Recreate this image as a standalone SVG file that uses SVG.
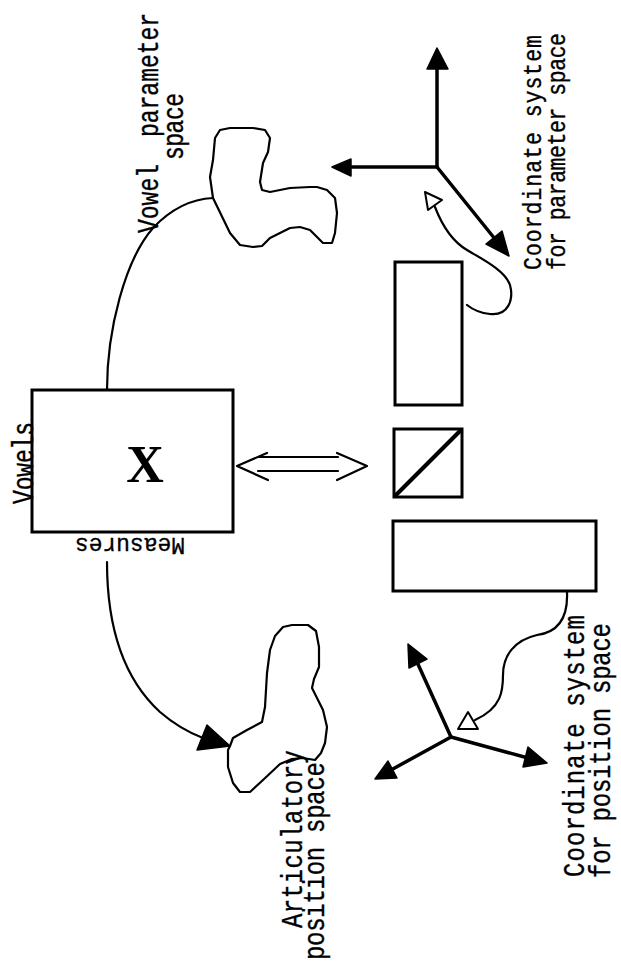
<svg xmlns="http://www.w3.org/2000/svg" width="621" height="962" viewBox="0 0 621 962">
<style>
.t{font-family:"Liberation Mono","DejaVu Sans Mono",monospace;fill:#000;stroke:#000;stroke-width:0.3}
.ln{fill:none;stroke:#000;stroke-width:2.2;stroke-linejoin:round;stroke-linecap:round}
.box{fill:none;stroke:#000;stroke-width:3}
.ax{fill:none;stroke:#000;stroke-width:3.5;stroke-linecap:round}
.ah{fill:#000;stroke:#000;stroke-width:1.5;stroke-linejoin:round}
.ho{fill:#fff;stroke:#000;stroke-width:2;stroke-linejoin:round}
</style>
<rect width="621" height="962" fill="#fff"/>

<g id="vowels-box">
<rect class="box" x="32" y="390" width="201" height="142"/>
<text class="t" font-size="23" transform="translate(33,504) rotate(-90) scale(1,1.25)" textLength="82" lengthAdjust="spacing">Vowels</text>
<text class="t" font-size="23" transform="translate(185,538) rotate(180)" textLength="110" lengthAdjust="spacing">Measures</text>
<text font-family="Liberation Serif,serif" font-weight="bold" font-size="52" x="145" y="482" text-anchor="middle">X</text>
</g>

<g id="vowel-parameter-space">
<path class="ln" d="M213,198 L210,177 L213,160 L215,138 L220,130 L230,128 L253,128 L265,130 L270,138 L268,152 L263,163 L260,182 L262,190 L270,192 L290,188 L310,187 L317,187 L327,190 L335,198 L337,213 L335,233 L332,243 L323,243 L317,237 L310,230 L300,227 L290,228 L270,238 L262,246 L253,247 L240,245 L230,233 Z"/>
<text class="t" font-size="23" transform="translate(158,233) rotate(-90) scale(1,1.25)"><tspan x="0">Vowel</tspan><tspan x="96">parameter</tspan></text>
<text class="t" font-size="23" transform="translate(183,160) rotate(-90) scale(1,1.25)" textLength="67" lengthAdjust="spacing">space</text>
</g>

<g id="articulatory-position-space">
<path class="ln" d="M230,746 L233,738 L247,730 L262,722 L265,707 L267,673 L270,650 L275,636 L283,627 L292,625 L308,625 L316,631 L319,647 L319,667 L314,679 L312,688 L318,700 L323,710 L327,727 L325,743 L321,753 L315,760 L303,758 L292,759 L280,764 L263,780 L250,792 L240,792 L233,783 L228,767 L228,750 Z"/>
<text class="t" font-size="24" transform="translate(302,928) rotate(-90) scale(1,1.2)" textLength="178" lengthAdjust="spacing">Articulatory</text>
<text class="t" font-size="24" transform="translate(324,960) rotate(-90) scale(1,1.2)" textLength="198" lengthAdjust="spacing">position space</text>
</g>

<g id="parameter-coordinate-system">
<line class="ax" x1="437" y1="167" x2="437" y2="66"/>
<polygon class="ah" points="437,48 427,69 448,69"/>
<line class="ax" x1="437" y1="167" x2="349" y2="167"/>
<polygon class="ah" points="332,167 351,159 351,176"/>
<line class="ax" x1="437" y1="167" x2="495" y2="239"/>
<polygon class="ah" points="509,256 486,244 502,231"/>
<text class="t" font-size="21.5" transform="translate(541,270) rotate(-90) scale(1,1.2)" textLength="235" lengthAdjust="spacing">Coordinate system</text>
<text class="t" font-size="21.5" transform="translate(565,270) rotate(-90) scale(1,1.2)" textLength="237" lengthAdjust="spacing">for parameter space</text>
</g>

<g id="position-coordinate-system">
<line class="ax" x1="451" y1="737" x2="417" y2="662"/>
<polygon class="ah" points="408,644 427,659 409,668"/>
<line class="ax" x1="451" y1="737" x2="391" y2="770"/>
<polygon class="ah" points="375,779 397,778 388,761"/>
<line class="ax" x1="451" y1="737" x2="528" y2="758"/>
<polygon class="ah" points="547,763 523,767 528,747"/>
<text class="t" font-size="24" transform="translate(584,877) rotate(-90) scale(1,1.2)" textLength="262" lengthAdjust="spacing">Coordinate system</text>
<text class="t" font-size="24" transform="translate(610,878) rotate(-90) scale(1,1.2)" textLength="255" lengthAdjust="spacing">for position space</text>
</g>

<g id="rect-top">
<rect class="box" x="395" y="262" width="67" height="143"/>
</g>
<g id="square-diag">
<rect class="box" x="394" y="429" width="68" height="68"/>
<line x1="395" y1="496" x2="461" y2="430" stroke="#000" stroke-width="4"/>
</g>
<g id="rect-bottom">
<rect class="box" x="393" y="521" width="203" height="70"/>
</g>

<g id="connectors">
<path class="ln" d="M107,390 C107,330 125,260 153,228 C170,210 190,199 213,198"/>
<path class="ln" d="M107,562 C107,630 125,680 160,712 C175,725 190,733 203,738"/>
<polygon class="ah" points="230,746 207,725 197,750"/>
<path class="ln" d="M435,207 C440,220 450,240 467,250 C480,258 505,270 510,285 C514,300 508,316 490,314 C480,313 472,309 467,305"/>
<polygon class="ho" points="425,192 442,200 428,210"/>
<path class="ln" d="M567,592 C568,615 560,632 537,635 C515,640 503,655 503,675 C503,690 502,708 475,720"/>
<polygon class="ho" points="458,729 468,712 478,729"/>
<g class="ln" stroke-width="3.2">
<polyline points="267,453 237,466 268,480"/>
<polyline points="337,453 367,466 337,480"/>
<line x1="259" y1="457" x2="338" y2="457"/>
<line x1="258" y1="471" x2="338" y2="471"/>
</g>
</g>
</svg>
